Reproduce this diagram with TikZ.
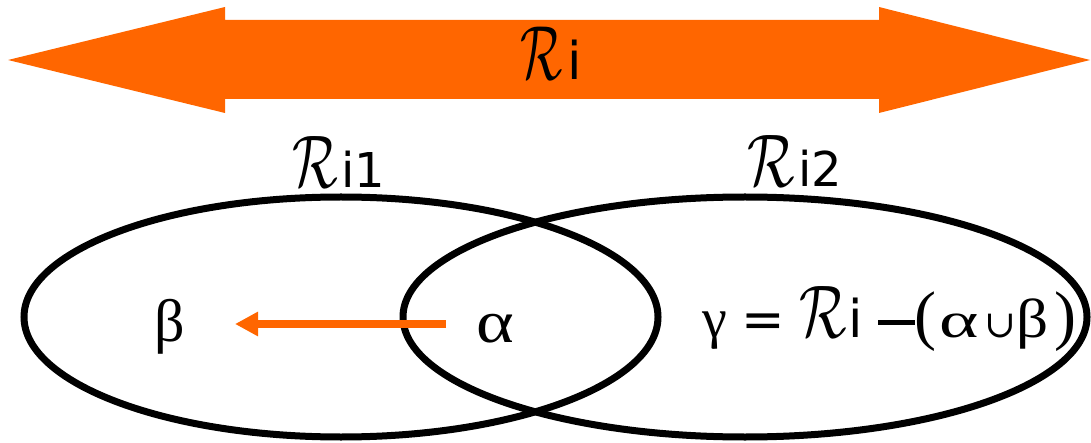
\documentclass[tikz,border=0pt]{standalone}
\usepackage{graphicx}
\usepackage{fontspec}
\setmainfont{DejaVu Sans}
\newfontfamily\greekfont{Liberation Serif}
\newfontfamily\cupfont{DejaVu Serif}
\usetikzlibrary{shapes.geometric,arrows.meta}
\definecolor{rorange}{RGB}{255,102,0}
\newcommand{\calR}[3]{\makebox[#3pt][l]{\scalebox{#1}[#2]{\fontsize{20}{24}\selectfont$\mathcal{R}$}}}
\newcommand{\putat}[2]{\makebox[0pt][l]{\kern#1pt #2}}
\begin{document}
\begin{tikzpicture}[x=1pt,y=-1pt,
  setshape/.style={draw=black, line width=7pt, ellipse, inner sep=0pt, minimum height=240pt},
  biglabel/.style={font=\fontsize{52}{60}\selectfont, anchor=base west, inner sep=0pt},
  setlabel/.style={font=\fontsize{48}{56}\selectfont, anchor=base west, inner sep=0pt},
  elem/.style={font=\fontsize{60}{66}\selectfont\greekfont, anchor=base, inner sep=0pt},
  formula/.style={font=\fontsize{52}{60}\selectfont, anchor=base west, inner sep=0pt},
  flow/.style={draw=rorange, line width=8pt, -{Triangle[length=23pt,width=23pt]}}
]
\useasboundingbox (0,0) rectangle (1091,443);
% big double arrow
\fill[rorange] (8,60) -- (225,7) -- (225,20) -- (879,20) -- (879,7) -- (1090,60)
  -- (879,113) -- (879,99) -- (225,99) -- (225,113) -- cycle;
\node[biglabel] (Ri) at (520,80) {\calR{2.4}{3.7}{47}i};
% sets
\node[setshape, minimum width=634pt] (S1) at (341,317) {};
\node[setshape, minimum width=684pt] (S2) at (745,317) {};
\node[setlabel] (L1) at (292,188) {\calR{2.6}{3.6}{49}i1};
\node[setlabel] (L2) at (747,187) {\calR{2.7}{3.6}{51}i2};
% elements
\node[elem] (beta) at (170,341) {β};
\node[elem] (alpha) at (495,342) {\scalebox{1.2}[1]{α}};
\node[formula] (gamma) at (702,337) {\makebox[372pt][l]{%
  \putat{0}{\fontsize{56}{60}\selectfont\greekfont γ}%
  \putat{39}{=}%
  \putat{97}{\calR{2.7}{3.6}{49}}%
  \putat{146}{i}%
  \putat{176}{\rule[12.5pt]{37pt}{4.5pt}}%
  \putat{212}{\fontsize{66}{70}\selectfont\greekfont (}%
  \putat{237}{\fontsize{50}{60}\selectfont\greekfont\scalebox{1.5}[1]{α}}%
  \putat{282}{\fontsize{38}{60}\selectfont\cupfont ∪}%
  \putat{314}{\fontsize{55}{60}\selectfont\greekfont\scalebox{1.15}[1]{β}}%
  \putat{352}{\fontsize{66}{70}\selectfont\greekfont )}}};
\coordinate (tail) at (446,324);
\coordinate (tip) at (235,324);
\draw[flow] (tail) -- (tip);
\end{tikzpicture}
\end{document}
